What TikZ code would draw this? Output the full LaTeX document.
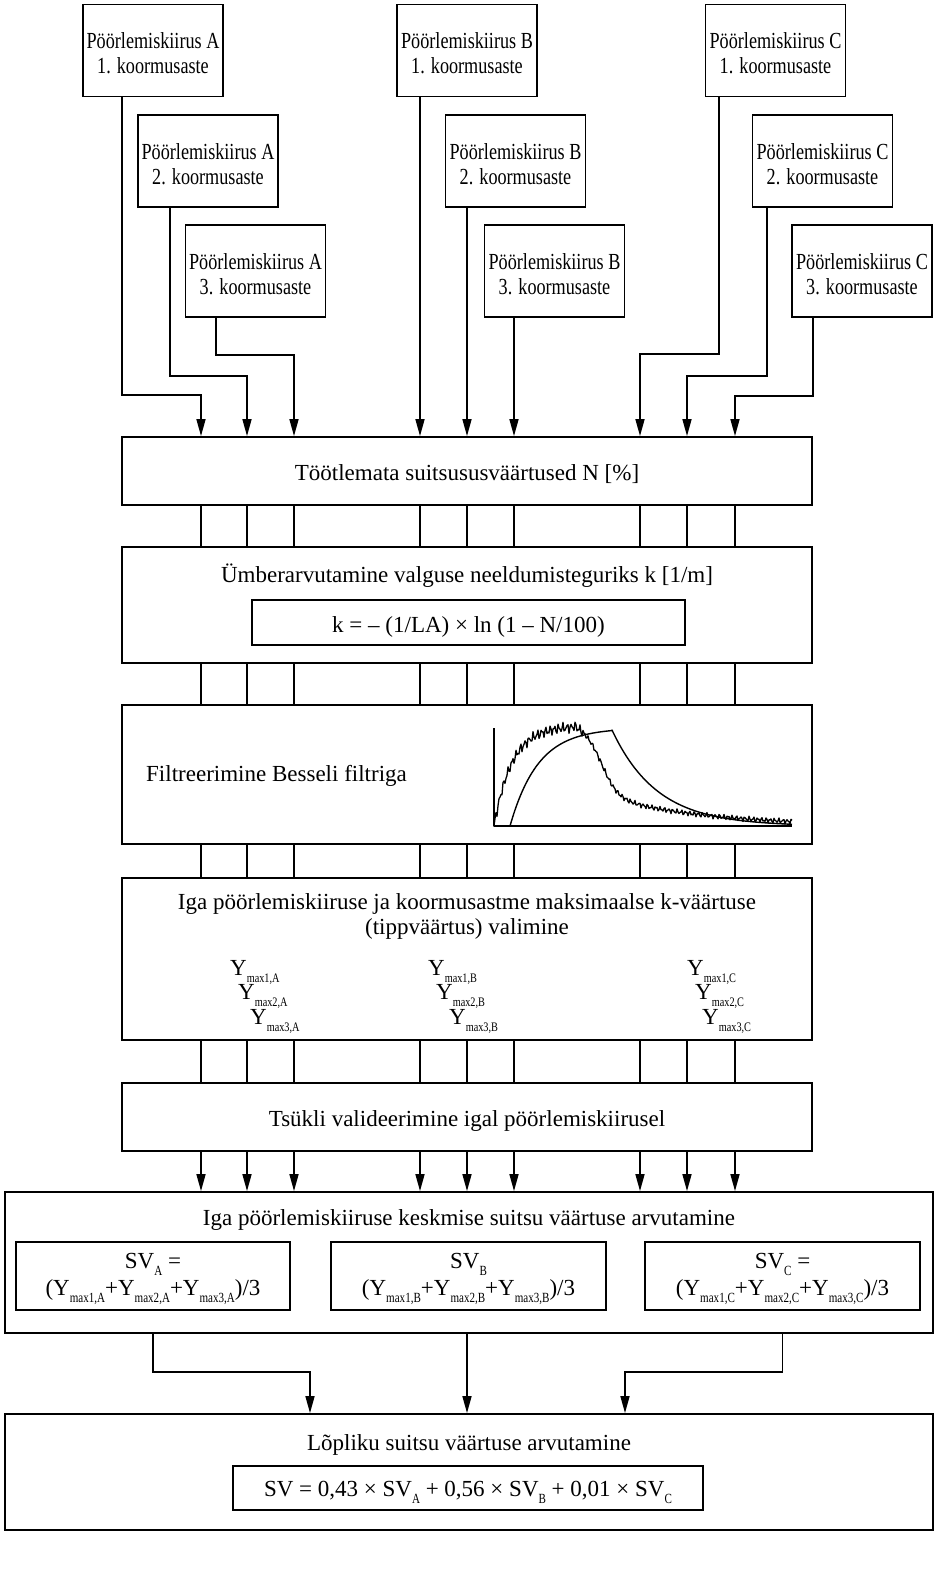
\documentclass[tikz,border=0pt]{standalone}
\usepackage{fontspec}
\setmainfont{Liberation Serif}
\newfontfamily\condfont{Liberation Serif}[FakeStretch=0.79]
\usetikzlibrary{arrows.meta,calc}
\newcommand{\ysb}[1]{\raisebox{-7pt}{\condfont\fontsize{13}{13}\selectfont #1}}
\newcommand{\vsb}[1]{\raisebox{-7pt}{\condfont\fontsize{14}{14}\selectfont #1}}
\begin{document}
\begin{tikzpicture}[x=1pt,y=-1pt,
  box/.style={draw, line width=1.8pt, inner sep=0pt},
  topbox/.style={box, minimum width=140pt, minimum height=92pt},
  mainbox/.style={box, minimum width=690pt},
  txt/.style={inner sep=0pt, align=center, font=\fontsize{23}{25}\selectfont},
  ylab/.style={txt, anchor=base west, text height=15pt, text depth=7pt},
  toptxt/.style={inner sep=0pt, align=center, font=\condfont\fontsize{23}{25}\selectfont},
  ln/.style={line width=1.6pt},
  arr/.style={ln, -{Triangle[width=9pt,length=17pt]}},
  curve/.style={line width=1.4pt, line join=round},
  declare function={
    rawh(\t)=(\t<80) ? 100*(1-exp(-\t/18)) : 62/(1+exp(min((\t-108)/8,9)))+40*exp(-(\t-80)/100);
    noiseA(\t)=(\t<90) ? 6 : 3;
    wig(\t)=0.6*sin(mod(\t,72)*85)+0.4*sin(mod(\t,72)*215);
  }]
\useasboundingbox (0,0) rectangle (945,1575);

% top boxes
\node[topbox] (A1) at (153,50.5) {};
\node[topbox] (A2) at (208,161) {};
\node[topbox] (A3) at (255.5,271) {};
\node[topbox] (B1) at (467,50.5) {};
\node[topbox] (B2) at (515.5,161) {};
\node[topbox] (B3) at (554.5,271) {};
\node[topbox] (C1) at (775.5,50.5) {};
\node[topbox] (C2) at (822.5,161) {};
\node[topbox] (C3) at (862,271) {};
\node[toptxt] (A1t) at (153,53.5) {Pöörlemiskiirus A\\1. koormusaste};
\node[toptxt] (A2t) at (208,164) {Pöörlemiskiirus A\\2. koormusaste};
\node[toptxt] (A3t) at (255.5,274) {Pöörlemiskiirus A\\3. koormusaste};
\node[toptxt] (B1t) at (467,53.5) {Pöörlemiskiirus B\\1. koormusaste};
\node[toptxt] (B2t) at (515.5,164) {Pöörlemiskiirus B\\2. koormusaste};
\node[toptxt] (B3t) at (554.5,274) {Pöörlemiskiirus B\\3. koormusaste};
\node[toptxt] (C1t) at (775.5,53.5) {Pöörlemiskiirus C\\1. koormusaste};
\node[toptxt] (C2t) at (822.5,164) {Pöörlemiskiirus C\\2. koormusaste};
\node[toptxt] (C3t) at (862,274) {Pöörlemiskiirus C\\3. koormusaste};

% main boxes
\node[mainbox, minimum height=68pt] (N1) at (467,471) {};
\node[txt] (N1t) at (467,474) {Töötlemata suitsususväärtused N [\%]};

\node[mainbox, minimum height=116pt] (N2) at (467,605) {};
\node[txt] (N2t) at (467,576) {Ümberarvutamine valguse neeldumisteguriks k [1/m]};
\node[box, minimum width=433pt, minimum height=45pt] (F2) at (468.5,622.5) {};
\node[txt] (F2t) at (468.5,626.5) {k = – (1/LA) × ln (1 – N/100)};

\node[mainbox, minimum height=139pt] (N3) at (467,774.5) {};
\node[txt, anchor=west] (N3t) at (146,776) {Filtreerimine Besseli filtriga};

\node[mainbox, minimum height=162pt] (N4) at (467,959) {};
\node[txt] (N4t) at (467,916) {Iga pöörlemiskiiruse ja koormusastme maksimaalse k-väärtuse\\(tippväärtus) valimine};

\node[ylab] (YA1) at (230,975) {Y\ysb{max1,A}};
\node[ylab] (YA2) at (238,999) {Y\ysb{max2,A}};
\node[ylab] (YA3) at (250,1024) {Y\ysb{max3,A}};
\node[ylab] (YB1) at (428,975) {Y\ysb{max1,B}};
\node[ylab] (YB2) at (436,999) {Y\ysb{max2,B}};
\node[ylab] (YB3) at (449,1024) {Y\ysb{max3,B}};
\node[ylab] (YC1) at (687,975) {Y\ysb{max1,C}};
\node[ylab] (YC2) at (695,999) {Y\ysb{max2,C}};
\node[ylab] (YC3) at (702,1024) {Y\ysb{max3,C}};

\node[mainbox, minimum height=68pt] (N5) at (467,1117) {};
\node[txt] (N5t) at (467,1121) {Tsükli valideerimine igal pöörlemiskiirusel};

\node[box, minimum width=928pt, minimum height=141pt] (N6) at (469,1262.5) {};
\node[txt] (N6t) at (469,1220) {Iga pöörlemiskiiruse keskmise suitsu väärtuse arvutamine};
\node[box, minimum width=274pt, minimum height=68pt] (SVA) at (153,1276) {};
\node[box, minimum width=275pt, minimum height=68pt] (SVB) at (468.5,1276) {};
\node[box, minimum width=275pt, minimum height=68pt] (SVC) at (782.5,1276) {};
\node[txt, font=\fontsize{23}{27}\selectfont] (SVAt) at (153,1279)
  {SV\vsb{A} =\\(Y\vsb{max1,A}+Y\vsb{max2,A}+Y\vsb{max3,A})/3};
\node[txt, font=\fontsize{23}{27}\selectfont] (SVBt) at (468.5,1279)
  {SV\vsb{B}\\(Y\vsb{max1,B}+Y\vsb{max2,B}+Y\vsb{max3,B})/3};
\node[txt, font=\fontsize{23}{27}\selectfont] (SVCt) at (782.5,1279)
  {SV\vsb{C} =\\(Y\vsb{max1,C}+Y\vsb{max2,C}+Y\vsb{max3,C})/3};

\node[box, minimum width=928pt, minimum height=116pt] (N7) at (469,1472) {};
\node[txt] (N7t) at (469,1445) {Lõpliku suitsu väärtuse arvutamine};
\node[box, minimum width=470pt, minimum height=44pt] (F7) at (468,1488) {};
\node[txt] (F7t) at (468,1492) {SV = 0,43 × SV\vsb{A} + 0,56 × SV\vsb{B} + 0,01 × SV\vsb{C}};

% column coordinates
\coordinate (cA1) at (201,0); \coordinate (cA2) at (247,0); \coordinate (cA3) at (294,0);
\coordinate (cB1) at (420,0); \coordinate (cB2) at (467,0); \coordinate (cB3) at (514,0);
\coordinate (cC1) at (640,0); \coordinate (cC2) at (687,0); \coordinate (cC3) at (735,0);
\coordinate (xA1) at (122,0); \coordinate (xA2) at (170,0); \coordinate (xA3) at (216,0);
\coordinate (xC1) at (719,0); \coordinate (xC2) at (767,0); \coordinate (xC3) at (813,0);
\coordinate (tA1) at (0,395); \coordinate (tA2) at (0,376); \coordinate (tA3) at (0,355);
\coordinate (tC1) at (0,354); \coordinate (tC2) at (0,376); \coordinate (tC3) at (0,396);

% top connectors
\draw[arr] (A1.south -| xA1) -- (xA1 |- tA1) -| (cA1 |- N1.north);
\draw[arr] (A2.south -| xA2) -- (xA2 |- tA2) -| (cA2 |- N1.north);
\draw[arr] (A3.south -| xA3) -- (xA3 |- tA3) -| (cA3 |- N1.north);
\draw[arr] (B1.south -| cB1) -- (cB1 |- N1.north);
\draw[arr] (B2.south -| cB2) -- (cB2 |- N1.north);
\draw[arr] (B3.south -| cB3) -- (cB3 |- N1.north);
\draw[arr] (C1.south -| xC1) -- (xC1 |- tC1) -| (cC1 |- N1.north);
\draw[arr] (C2.south -| xC2) -- (xC2 |- tC2) -| (cC2 |- N1.north);
\draw[arr] (C3.south -| xC3) -- (xC3 |- tC3) -| (cC3 |- N1.north);

% lines between main boxes
\foreach \c in {cA1,cA2,cA3,cB1,cB2,cB3,cC1,cC2,cC3}{
  \draw[ln] (\c |- N1.south) -- (\c |- N2.north);
  \draw[ln] (\c |- N2.south) -- (\c |- N3.north);
  \draw[ln] (\c |- N3.south) -- (\c |- N4.north);
  \draw[ln] (\c |- N4.south) -- (\c |- N5.north);
  \draw[arr] (\c |- N5.south) -- (\c |- N6.north);
}

% bottom connectors
\coordinate (tb) at (0,1372);
\coordinate (cL) at (310,0); \coordinate (cR) at (625,0);
\draw[arr] (SVA.south |- N6.south) -- (SVA.south |- tb) -| (cL |- N7.north);
\draw[arr] (cB2 |- N6.south) -- (cB2 |- N7.north);
\draw[arr] (SVC.south |- N6.south) -- (SVC.south |- tb) -| (cR |- N7.north);

% filter plot
\draw[curve] (494,728) -- (494,826) -- (792,826);
\draw[curve] plot[domain=16:118, samples=60] ({494+\x},{826-98*(1-exp(-(\x-16)/28))})
  -- plot[domain=118:298, samples=90] ({494+\x},{826-96*exp(-(\x-118)/45)});
\draw[line width=1.3pt, line join=round] plot[domain=0:298, samples=299]
  ({494+\x},{826-max(0,rawh(\x)+noiseA(\x)*wig(\x))});
\end{tikzpicture}
\end{document}
